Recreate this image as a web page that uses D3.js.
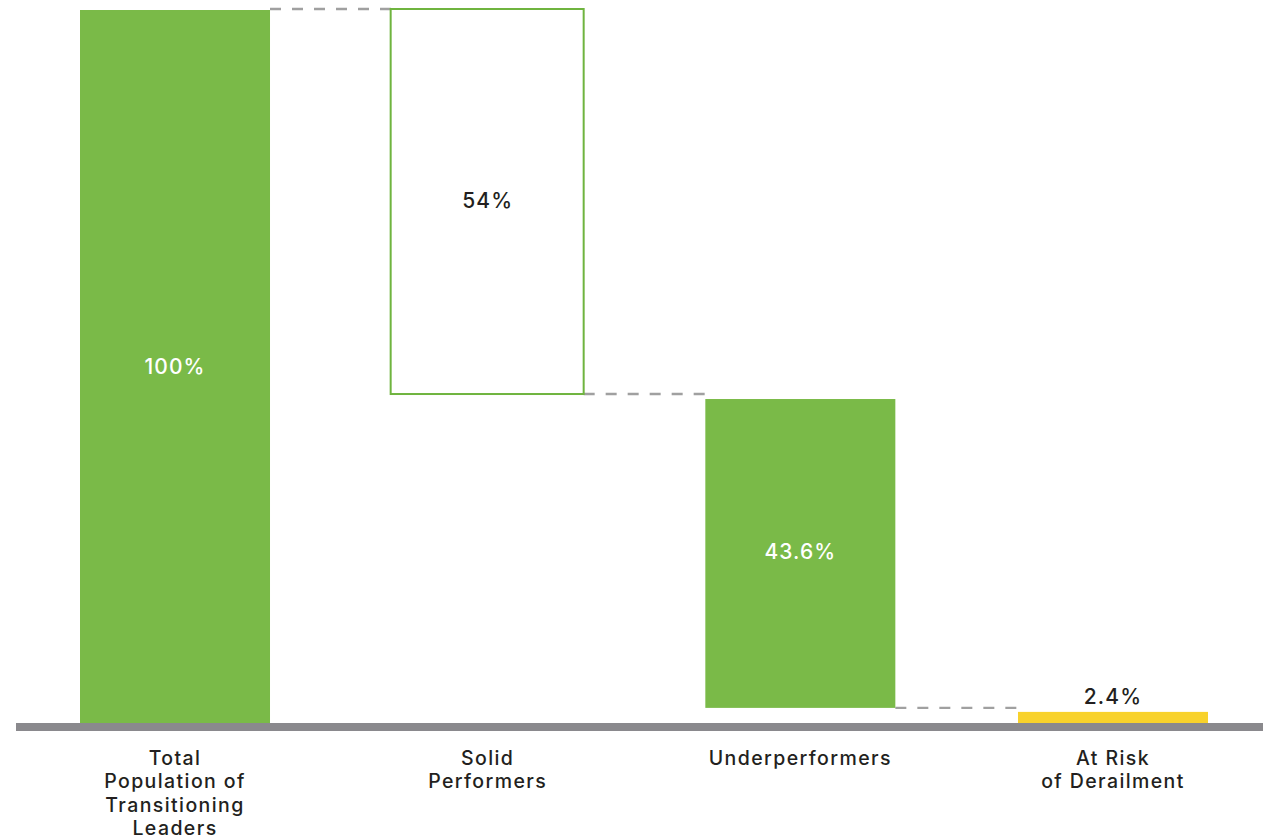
<!DOCTYPE html>
<html>
<head>
<meta charset="utf-8">
<script src="https://cdn.jsdelivr.net/npm/d3@7"></script>
<style>
  body { margin: 0; background: #fff; }
  svg { display: block; font-family: Inter, "Open Sans", sans-serif; }
</style>
</head>
<body>
<svg id="chart" width="1263" height="839"></svg>
<script>
// waterfall data
const categories = ["Total", "Solid", "Under", "Risk"];
const labelLines = [
  ["Total", "Population of", "Transitioning", "Leaders"],
  ["Solid", "Performers"],
  ["Underperformers"],
  ["At Risk", "of Derailment"]
];
const values = [100, 54, 43.6, 2.4];
const valueText = ["100%", "54%", "43.6%", "2.4%"];
const kinds = ["total", "outline", "step", "risk"];

const green = "#7aba48",
  yellow = "#f8d22b",
  axisGray = "#8a898d",
  dashGray = "#a0a0a0",
  textColor = "#231f20";

let margin = { top: 10, left: 80, right: 55, bottom: 116 },
  width = 1263 - margin.left - margin.right,
  height = 839 - margin.top - margin.bottom;

let svg = d3.select("#chart");
let g = svg.append("g")
  .attr("transform", "translate(" + margin.left + "," + margin.top + ")");

let x = d3.scaleBand()
  .domain(categories)
  .range([0, width])
  .paddingInner(0.3923)
  .paddingOuter(0);

let y = d3.scaleLinear()
  .domain([0, 100])
  .range([height, 0]);

// compute start/end for each bar
let bars = [];
let running = 0;
values.forEach(function(v, i) {
  if (i === 0) {
    bars.push({ key: categories[i], y0: 0, y1: v, kind: kinds[i], text: valueText[i] });
    running = v;
  } else {
    bars.push({ key: categories[i], y0: running - v, y1: running, kind: kinds[i], text: valueText[i] });
    running = running - v;
  }
});

// small gap under the connector for the lower bars
let gapTop = function(d) {
  if (d.kind === "step") return 4;
  if (d.kind === "risk") return 6;
  return 0;
};

// dashed connectors between bars
for (let i = 0; i < bars.length - 1; i++) {
  let next = bars[i + 1];
  let yy = y(next.y1) - 1 + (next.kind === "risk" ? 3 : 0);
  g.append("line")
    .attr("x1", x(bars[i].key) + x.bandwidth() + (bars[i].kind === "outline" ? 1 : 0))
    .attr("x2", x(next.key) - (next.kind === "outline" ? 1 : 0))
    .attr("y1", yy)
    .attr("y2", yy)
    .attr("stroke", dashGray)
    .attr("stroke-width", 2.4)
    .attr("stroke-dasharray", "11,11");
}

g.selectAll("rect.bar")
  .data(bars)
  .enter().append("rect")
  .attr("class", "bar")
  .attr("x", function(d) { return x(d.key) - (d.kind === "outline" ? 2 : 0); })
  .attr("width", function(d) { return x.bandwidth() + (d.kind === "outline" ? 3 : 0); })
  .attr("y", function(d) { return y(d.y1) + gapTop(d) - (d.kind === "outline" ? 1 : 0); })
  .attr("height", function(d) {
    let h = y(d.y0) - y(d.y1) - gapTop(d);
    if (d.kind === "step") h += 2;
    return h;
  })
  .attr("fill", function(d) {
    if (d.kind === "outline") return "#fff";
    if (d.kind === "risk") return yellow;
    return green;
  })
  .attr("stroke", function(d) { return d.kind === "outline" ? "#6fb43f" : "none"; })
  .attr("stroke-width", 2);

// value labels
g.selectAll("text.val")
  .data(bars)
  .enter().append("text")
  .attr("class", "val")
  .attr("x", function(d) { return x(d.key) + x.bandwidth() / 2; })
  .attr("y", function(d) {
    if (d.kind === "risk") return y(d.y1) + gapTop(d) - 8;
    let off = d.kind === "outline" ? 5 : 7;
    return (y(d.y0) + y(d.y1) + gapTop(d)) / 2 + off;
  })
  .attr("text-anchor", "middle")
  .attr("fill", function(d) { return (d.kind === "total" || d.kind === "step") ? "#fff" : textColor; })
  .style("font-size", "21px")
  .style("font-weight", 500)
  .style("letter-spacing", "1.1px")
  .text(function(d) { return d.text; });

// baseline
svg.append("line")
  .attr("x1", 16)
  .attr("x2", 1263)
  .attr("y1", margin.top + height + 4)
  .attr("y2", margin.top + height + 4)
  .attr("stroke", axisGray)
  .attr("stroke-width", 8);

// category labels
let labels = g.selectAll("text.cat")
  .data(categories)
  .enter().append("text")
  .attr("class", "cat")
  .attr("x", function(d) { return x(d) + x.bandwidth() / 2; })
  .attr("y", height + 42)
  .attr("text-anchor", "middle")
  .attr("fill", textColor)
  .style("font-size", "19.5px")
  .style("font-weight", 500)
  .style("letter-spacing", "1.4px");

labels.each(function(d, i) {
  let t = d3.select(this);
  labelLines[i].forEach(function(line, j) {
    t.append("tspan")
      .attr("x", x(d) + x.bandwidth() / 2)
      .attr("dy", j === 0 ? 0 : 23.3)
      .text(line);
  });
});
</script>
</body>
</html>
